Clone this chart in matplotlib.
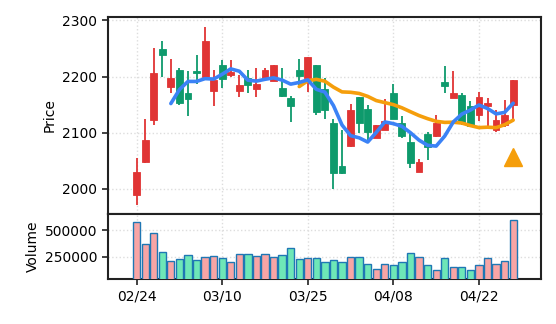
import numpy as np
import pandas as pd
import matplotlib
matplotlib.use("Agg")
import matplotlib.pyplot as plt

# Data (index = trading day)
tick_pos = [0, 10, 20, 30, 40]
tick_labels = ['02/24', '03/10', '03/25', '04/08', '04/22']

opens = [1988, 2047, 2123, 2249, 2182, 2211, 2171, 2209, 2200, 2175,
         2221, 2203, 2174, 2198, 2178, 2198, 2192, 2180, 2161, 2212,
         2197, 2221, 2177, 2118, 2041, 2076, 2163, 2142, 2091, 2104,
         2171, 2117, 2084, 2029, 2098, 2094, 2191, 2162, 2167, 2148,
         2131, 2148, 2104, 2113, 2150]
highs = [2055, 2125, 2251, 2264, 2231, 2216, 2209, 2239, 2289, 2211,
         2230, 2230, 2202, 2211, 2216, 2215, 2221, 2216, 2166, 2231,
         2235, 2221, 2198, 2125, 2104, 2151, 2164, 2150, 2114, 2160,
         2187, 2129, 2097, 2053, 2102, 2131, 2218, 2209, 2170, 2156,
         2172, 2161, 2141, 2159, 2193]
lows = [1971, 2045, 2113, 2200, 2170, 2150, 2129, 2187, 2198, 2148,
        2179, 2200, 2164, 2170, 2163, 2196, 2192, 2164, 2119, 2185,
        2172, 2132, 2125, 1999, 2027, 2075, 2099, 2087, 2090, 2104,
        2125, 2090, 2037, 2029, 2051, 2092, 2170, 2161, 2114, 2111,
        2120, 2107, 2101, 2110, 2125]
closes = [2029, 2087, 2206, 2239, 2198, 2153, 2160, 2206, 2264, 2194,
          2196, 2208, 2185, 2184, 2186, 2212, 2221, 2165, 2148, 2201,
          2235, 2137, 2140, 2028, 2028, 2140, 2118, 2102, 2114, 2121,
          2125, 2094, 2045, 2048, 2075, 2118, 2183, 2171, 2118, 2111,
          2163, 2152, 2123, 2131, 2193]
volumes = [572000, 366000, 469000, 291000, 206000, 225000, 262000, 216000, 244000, 253000,
           234000, 197000, 272000, 272000, 253000, 272000, 244000, 262000, 328000, 225000,
           234000, 234000, 197000, 216000, 197000, 244000, 244000, 178000, 131000, 178000,
           169000, 197000, 281000, 244000, 169000, 122000, 234000, 150000, 150000, 122000,
           169000, 234000, 178000, 206000, 591000]
signal_idx = 44
signal_price = 2057

x = np.arange(len(closes))
o = np.array(opens, float)
c = np.array(closes, float)
h = np.array(highs, float)
l = np.array(lows, float)
up = c >= o

ma5 = pd.Series(c).rolling(5).mean()
ma20 = pd.Series(c).rolling(20).mean()

red, green = '#e03434', '#0e9a6c'
pink, mint = '#f8a5a5', '#6ee7b7'

fig = plt.figure(figsize=(5.56, 3.24), dpi=100)
ax = fig.add_axes([0.194, 0.3395, 0.779, 0.608])
axv = fig.add_axes([0.194, 0.140, 0.779, 0.1995], sharex=ax)

for a in (ax, axv):
    a.grid(True, color='#dddddd', linestyle=':', linewidth=1)
    a.set_axisbelow(True)
    for s in a.spines.values():
        s.set_linewidth(1.5)
        s.set_color('#222222')
    a.tick_params(labelsize=10, width=1.2, length=4, color='#222222')

# candles
cols = np.where(up, red, green)
ax.vlines(x, l, h, colors=cols, linewidth=1.3, zorder=2)
body_h = np.maximum(np.abs(c - o), 1.5)
ax.bar(x, body_h, bottom=np.minimum(o, c), width=0.8, color=cols,
       edgecolor=cols, linewidth=0.6, zorder=3)

ax.plot(x, ma20, color='#f59e0b', linewidth=2.6, solid_capstyle='round', zorder=4)
ax.plot(x, ma5, color='#3b82f6', linewidth=2.6, solid_capstyle='round', zorder=5)
ax.plot(signal_idx, signal_price, marker='^', color='#f59e0b', markersize=13,
        linestyle='none', zorder=6)

ax.set_ylim(1955, 2306)
ax.set_yticks([2000, 2100, 2200, 2300])
ax.set_ylabel('Price', fontsize=10)
ax.tick_params(axis='x', length=0, labelbottom=False)

# volume
vcols = np.where(up, pink, mint)
axv.bar(x, volumes, width=0.85, color=vcols, edgecolor='#1f77b4', linewidth=1.0, zorder=3)
axv.set_ylim(44000, 650000)
axv.set_yticks([250000, 500000])
axv.set_ylabel('Volume', fontsize=10)

axv.set_xlim(-3.36, 47.25)
axv.set_xticks(tick_pos)
axv.set_xticklabels(tick_labels)

fig.savefig('out.png', dpi=100)
